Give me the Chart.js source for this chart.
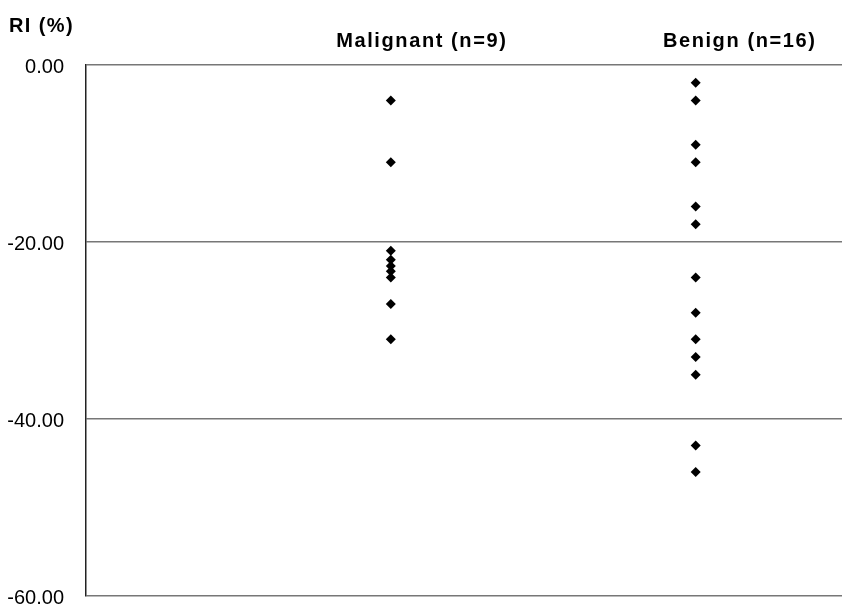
<!DOCTYPE html>
<html>
<head>
<meta charset="utf-8">
<script src="https://cdn.jsdelivr.net/npm/chart.js@4.4.1/dist/chart.umd.min.js"></script>
<style>
  html, body { margin: 0; padding: 0; background: #fff; }
  canvas { display: block; }
</style>
</head>
<body>
<canvas id="ri-chart" width="842" height="606"></canvas>
<script>
// groups on the x axis
const groups = ['Malignant (n=9)', 'Benign (n=16)'];
const groupX = [1, 2];

// RI (%) values
const malignant = [-4, -11, -21, -22, -22.7, -23.3, -24, -27, -31];
const benign = [-2, -4, -9, -11, -16, -18, -24, -28, -31, -33, -35, -43, -46];

const yTicks = [0, -20, -40, -60];
const yLabel = 'RI (%)';

const toPoints = (vals, x) => vals.map(v => ({ x: x, y: v }));

// group headers + axis title (headers sit a bit right of their column)
const headerShift = [31, 44];
const headers = {
    id: 'headers',
    afterDraw(chart) {
        const ctx = chart.ctx;
        const xs = chart.scales.x;
        const top = chart.chartArea.top;
        ctx.save();
        ctx.fillStyle = '#000';
        ctx.textBaseline = 'alphabetic';
        ctx.font = 'bold 20px "Liberation Sans", Arial, sans-serif';
        ctx.letterSpacing = '1.6px';
        ctx.textAlign = 'center';
        groups.forEach((g, i) => {
            ctx.fillText(g, xs.getPixelForValue(groupX[i]) + headerShift[i], top - 18);
        });
        ctx.letterSpacing = '1.4px';
        ctx.textAlign = 'left';
        ctx.fillText(yLabel, 9, 32);
        ctx.restore();
    }
};

const diamonds = (label, data) => ({
    label: label,
    data: data,
    pointStyle: 'rectRot',
    pointRadius: 5,
    backgroundColor: '#000',
    borderColor: '#000',
    borderWidth: 0
});

document.addEventListener('DOMContentLoaded', () => {
    new Chart(document.getElementById('ri-chart'), {
        type: 'scatter',
        data: {
            datasets: [
                diamonds(groups[0], toPoints(malignant, groupX[0])),
                diamonds(groups[1], toPoints(benign, groupX[1]))
            ]
        },
        options: {
            responsive: false,
            animation: false,
            layout: { autoPadding: false, padding: { top: 65, bottom: 10, left: 0, right: 0 } },
            plugins: {
                legend: { display: false },
                tooltip: { enabled: false }
            },
            scales: {
                x: {
                    type: 'linear',
                    display: false,
                    min: 0,
                    max: 2.48
                },
                y: {
                    min: -60,
                    max: 0,
                    afterBuildTicks(scale) {
                        scale.ticks = yTicks.map(v => ({ value: v }));
                    },
                    afterFit(scale) {
                        scale.width = 86;
                        scale.paddingTop = 0;
                        scale.paddingBottom = 0;
                    },
                    border: { display: true, color: '#222', width: 1.5 },
                    grid: { color: '#777', lineWidth: 1.5, drawTicks: false },
                    ticks: {
                        padding: 22,
                        labelOffset: 2,
                        color: '#000',
                        font: { family: '"Liberation Sans", Arial, sans-serif', size: 20 },
                        callback: v => v.toFixed(2)
                    }
                }
            }
        },
        plugins: [headers]
    });
});
</script>
</body>
</html>
